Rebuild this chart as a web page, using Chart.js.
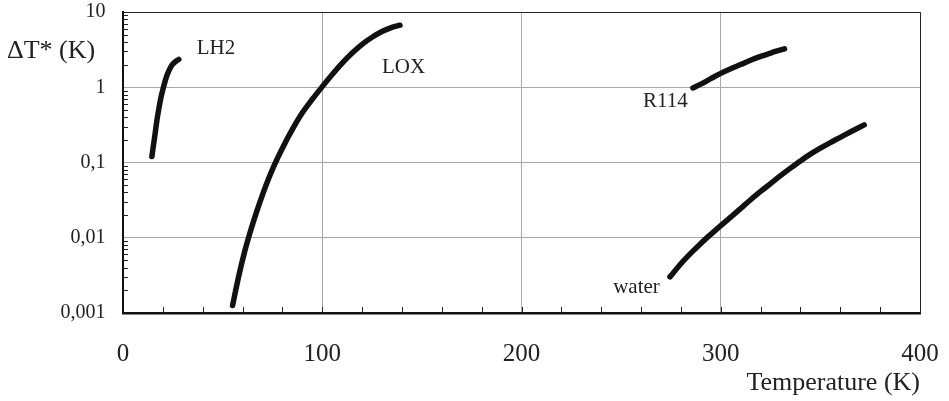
<!DOCTYPE html>
<html>
<head>
<meta charset="utf-8">
<script src="https://cdn.jsdelivr.net/npm/chart.js@4.4.1/dist/chart.umd.min.js"></script>
<style>
html, body { margin:0; padding:0; background:#fff; }
#wrap { width:949px; height:401px; }
</style>
</head>
<body>
<div id="wrap"><canvas id="chart_dt"></canvas></div>
<script>
// values: temperature (K) vs dT* (K)
var lh2T   = [14.5, 15, 16, 17, 18, 19, 20, 21, 22, 23, 24, 25, 26, 27, 28]
var lh2Dt  = [0.12, 0.15, 0.23, 0.36, 0.52, 0.72, 0.93, 1.17, 1.42, 1.65, 1.86, 2.03, 2.16, 2.26, 2.34]

var loxT   = [55, 58, 61, 64, 67, 70, 73, 76, 80, 85, 90, 95, 100, 105, 110, 115, 120, 125, 130, 135, 139]
var loxDt  = [0.00126, 0.00302, 0.00646, 0.0123, 0.0219, 0.0372, 0.0603, 0.0933, 0.155, 0.275, 0.457, 0.692, 1.02, 1.48, 2.09, 2.85, 3.72, 4.62, 5.50, 6.24, 6.68]

var r114T  = [286, 290, 295, 300, 305, 310, 315, 320, 325, 332]
var r114Dt = [0.98, 1.10, 1.30, 1.53, 1.76, 2.0, 2.29, 2.57, 2.85, 3.24]

var waterT  = [274.5, 280, 285, 290, 295, 300, 305, 310, 315, 320, 325, 330, 335, 340, 345, 350, 355, 360, 365, 372]
var waterDt = [0.00302, 0.00452, 0.00624, 0.00841, 0.0111, 0.0145, 0.0188, 0.0245, 0.032, 0.0412, 0.0525, 0.0668, 0.0841, 0.105, 0.129, 0.155, 0.184, 0.216, 0.254, 0.316]

// curve names and where they sit (T, dT*)
var names  = ["LH2", "LOX", "R114", "water"]
var nameT  = [37, 130, 261, 246]
var nameDt = [2.77, 1.55, 0.552, 0.00183]

var yTickText = {"10": "10", "1": "1", "0.1": "0,1", "0.01": "0,01", "0.001": "0,001"}

var serif = "'Liberation Serif', 'Times New Roman', serif"

function pts(xs, ys){
	var out = []
	xs.forEach(function(v, k){ out.push({x: v, y: ys[k]}) })
	return out
}

function isDecade(v){
	var l = Math.log10(v)
	return Math.abs(l - Math.round(l)) < 1e-6
}

function curve(xs, ys){
	return {
		data: pts(xs, ys),
		borderColor: '#111',
		borderWidth: 5.5,
		borderCapStyle: 'round',
		borderJoinStyle: 'round',
		pointRadius: 0,
		cubicInterpolationMode: 'monotone',
		fill: false
	}
}

var extras = {
	id: 'extras',
	afterDraw: function(chart){
		var ctx = chart.ctx
		var a = chart.chartArea
		var sx = chart.scales.x, sy = chart.scales.y
		ctx.save()
		// small inward ticks
		ctx.strokeStyle = '#222'
		ctx.lineWidth = 1
		ctx.beginPath()
		for (var t = 20; t < 400; t += 20) {
			var px = Math.round(sx.getPixelForValue(t)) + 0.5
			ctx.moveTo(px, a.bottom)
			ctx.lineTo(px, a.bottom - 6)
		}
		for (var e = -3; e < 1; e++) {
			for (var m = 2; m < 10; m++) {
				var py = Math.round(sy.getPixelForValue(m * Math.pow(10, e))) + 0.5
				ctx.moveTo(a.left, py)
				ctx.lineTo(a.left + 5, py)
			}
		}
		ctx.stroke()
		// top and right frame
		ctx.beginPath()
		ctx.moveTo(a.left, a.top + 0.5)
		ctx.lineTo(a.right + 0.5, a.top + 0.5)
		ctx.lineTo(a.right + 0.5, a.bottom)
		ctx.stroke()
		// curve names
		ctx.fillStyle = '#222'
		ctx.font = "21px " + serif
		ctx.textAlign = 'left'
		ctx.textBaseline = 'alphabetic'
		names.forEach(function(n, k){
			ctx.fillText(n, sx.getPixelForValue(nameT[k]), sy.getPixelForValue(nameDt[k]))
		})
		// y axis title, horizontal at the top left
		ctx.font = "26px " + serif
		ctx.fillText("\u0394T* (K)", 7, 58)
		ctx.restore()
	}
}

var ctx = document.getElementById("chart_dt")
var myChart = new Chart(ctx, {
	type: 'line',
	data: {
		datasets: [curve(lh2T, lh2Dt), curve(loxT, loxDt), curve(r114T, r114Dt), curve(waterT, waterDt)]
	},
	options: {
		responsive: true,
		maintainAspectRatio: false,
		animation: false,
		layout: { padding: { top: 12, right: 29, left: 0, bottom: 0 } },
		plugins: { legend: { display: false }, tooltip: { enabled: false } },
		scales: {
			x: {
				type: 'linear',
				min: 0,
				max: 400,
				afterFit: function(s){
					s.height = 88
					s.paddingLeft = 0
					s.paddingRight = 0
				},
				ticks: {
					stepSize: 20,
					autoSkip: false,
					maxRotation: 0,
					padding: 26,
					color: '#222',
					font: { family: serif, size: 25, lineHeight: 1.2 },
					callback: function(v){ return v % 100 === 0 ? String(v) : '' }
				},
				grid: {
					drawTicks: false,
					color: function(c){ return c.tick && c.tick.value % 100 === 0 ? '#a8a8a8' : 'rgba(0,0,0,0)' },
					lineWidth: 1
				},
				border: { display: true, color: '#111', width: 2.5 },
				title: {
					display: true,
					text: 'Temperature (K)',
					align: 'end',
					color: '#222',
					font: { family: serif, size: 26, lineHeight: 1.2 },
					padding: { top: 0, bottom: 2 }
				}
			},
			y: {
				type: 'logarithmic',
				min: 0.001,
				max: 10,
				afterFit: function(s){
					s.width = 123
					s.paddingTop = 0
					s.paddingBottom = 0
				},
				ticks: {
					autoSkip: false,
					padding: 17.5,
					color: '#222',
					font: { family: serif, size: 20, lineHeight: 1 },
					callback: function(v){ return isDecade(v) ? (yTickText[String(+v.toPrecision(3))] || '') : '' }
				},
				grid: {
					drawTicks: false,
					color: function(c){ return c.tick && isDecade(c.tick.value) ? '#a8a8a8' : 'rgba(0,0,0,0)' },
					lineWidth: 1
				},
				border: { display: true, color: '#111', width: 2 }
			}
		}
	},
	plugins: [extras]
})
</script>
</body>
</html>
